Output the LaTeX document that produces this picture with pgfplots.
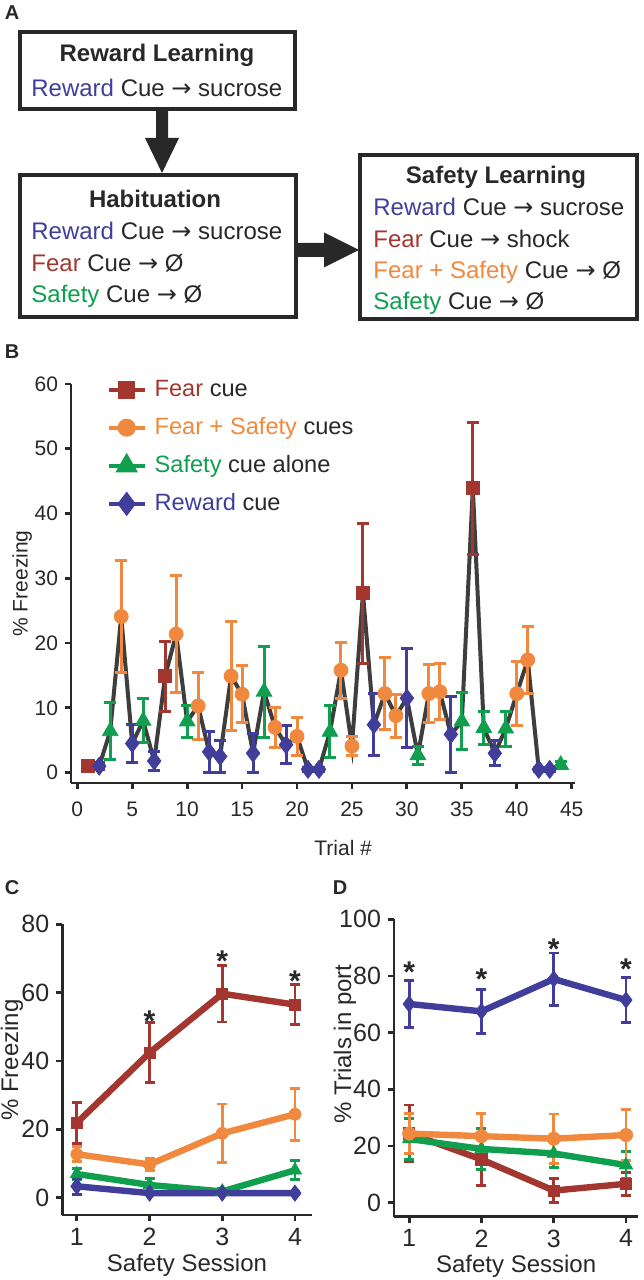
\documentclass[border=0pt]{standalone}
\usepackage{fontspec}
\setmainfont{Liberation Sans}
\newfontfamily\dv{DejaVu Sans}
\usepackage{pgfplots}
\usepackage{pgfplotstable}
\pgfplotsset{compat=1.18}

\definecolor{cred}{RGB}{163,55,47}
\definecolor{corange}{RGB}{240,137,61}
\definecolor{cgreen}{RGB}{16,158,79}
\definecolor{cblue}{RGB}{64,62,154}
\definecolor{cline}{RGB}{62,62,62}
\definecolor{ctext}{RGB}{40,40,40}

\newcommand{\fs}[1]{\fontsize{#1}{#1}\selectfont}
\newcommand{\arr}{{\dv\char"2192}}

% ---------- Panel B data ----------
\pgfplotstableread{
t v
1 1.0
2 1.0
3 6.4
4 24.1
5 4.5
6 8.0
7 1.8
8 14.9
9 21.4
10 7.9
11 10.3
12 3.2
13 2.5
14 14.9
15 12.1
16 3.0
17 12.5
18 7.0
19 4.3
20 5.6
21 0.5
22 0.5
23 6.3
24 15.8
25 4.1
26 27.7
27 7.4
28 12.2
29 8.8
30 11.5
31 2.7
32 12.2
33 12.5
34 5.9
35 7.9
36 43.9
37 6.9
38 3.0
39 6.8
40 12.2
41 17.4
42 0.5
43 0.5
44 1.2
}\Bline

\pgfplotstableread{
t v e
1 1.0 0.8
8 14.9 5.4
26 27.7 10.8
36 43.9 10.2
}\Bfear

\pgfplotstableread{
t v e
4 24.1 8.7
9 21.4 9.0
11 10.3 5.2
14 14.9 8.4
15 12.1 4.4
18 7.0 3.1
20 5.6 2.9
24 15.8 4.3
25 4.1 1.5
28 12.2 5.5
29 8.8 3.3
32 12.2 4.5
33 12.5 4.3
40 12.2 4.9
41 17.4 5.2
}\Bfs

\pgfplotstableread{
t v e
3 6.4 4.4
6 8.0 3.4
10 7.9 2.5
17 12.5 7.0
23 6.3 4.0
31 2.7 1.4
35 7.9 4.4
37 6.9 2.6
39 6.8 2.7
44 1.2 0.5
}\Bsafe

\pgfplotstableread{
t v e
2 1.0 0.5
5 4.5 3.0
7 1.8 1.5
12 3.2 3.2
13 2.5 2.5
16 3.0 3.0
19 4.3 2.9
21 0.5 0.3
22 0.5 0.3
27 7.4 4.8
30 11.5 7.6
34 5.9 5.9
38 3.0 1.9
42 0.5 0.3
43 0.5 0.3
}\Brew

% ---------- Panel C data ----------
\pgfplotstableread{
s v e
1 21.9 6.0
2 42.4 8.8
3 59.7 8.3
4 56.5 5.9
}\Cfear
\pgfplotstableread{
s v e
1 12.7 2.2
2 9.7 1.8
3 18.8 8.6
4 24.4 7.6
}\Cfs
\pgfplotstableread{
s v e
1 6.9 1.7
2 3.7 1.9
3 1.8 1.0
4 8.0 2.8
}\Csafe
\pgfplotstableread{
s v e
1 3.3 2.4
2 1.3 0.5
3 1.3 0.5
4 1.3 0.5
}\Crew

% ---------- Panel D data ----------
\pgfplotstableread{
s v e
1 70.1 8.4
2 67.5 7.8
3 78.9 9.2
4 71.5 8.0
}\Drew
\pgfplotstableread{
s v e
1 24.4 7.0
2 23.5 8.0
3 22.6 8.7
4 23.9 8.9
}\Dfs
\pgfplotstableread{
s v e
1 22.5 7.2
2 19.0 7.2
3 17.4 4.9
4 13.3 4.7
}\Dsafe
\pgfplotstableread{
s v e
1 24.5 10.0
2 15.3 9.1
3 4.3 4.3
4 6.7 4.0
}\Dfear

\pgfplotsset{
  base/.style={scale only axis, axis x line*=bottom, axis y line*=left,
    axis line style={line width=1.4pt, color=ctext},
    major tick style={line width=1.4pt, color=ctext},
    major tick length=3pt, tick align=outside,
    /pgf/number format/assume math mode=true,
    clip=false, tick label style={text=ctext}, label style={text=ctext}},
  ser/.style n args={3}{only marks, color=#1, mark=#2, mark size=#3,
    mark options={solid, fill=#1, draw=#1, line width=0.4pt},
    error bars/y dir=both, error bars/y explicit,
    error bars/error bar style={line width=1.5pt, color=#1},
    error bars/error mark options={rotate=90, mark size=3pt, line width=1.5pt, color=#1}},
  serl/.style n args={3}{color=#1, line width=3.2pt, mark=#2, mark size=#3,
    mark options={solid, fill=#1, draw=#1, line width=0.4pt},
    error bars/y dir=both, error bars/y explicit,
    error bars/error bar style={line width=1.4pt, color=#1},
    error bars/error mark options={rotate=90, mark size=2.5pt, line width=1.4pt, color=#1}},
}

\begin{document}
\begin{tikzpicture}
\path[use as bounding box] (0pt,0pt) rectangle (321.5pt,640pt);

% ---------- Panel A ----------
\node[font=\fs{10}\bfseries, text=ctext] at (6pt,633.5pt) {A};
\draw[ctext, line width=2pt] (10pt,585.5pt) rectangle (147.5pt,624pt);
\node[font=\fs{12}\bfseries, text=ctext] at (78.5pt,612.5pt) {Reward Learning};
\node[font=\fs{12}, text=ctext, anchor=west, inner sep=0pt] at (15.5pt,596pt) {\textcolor{cblue}{Reward} Cue \arr{} sucrose};

\fill[ctext] (78pt,584.5pt) -- (84pt,584.5pt) -- (84pt,571pt) -- (89.5pt,571pt) -- (81pt,553.5pt) -- (72.5pt,571pt) -- (78pt,571pt) -- cycle;

\draw[ctext, line width=2pt] (10pt,481.5pt) rectangle (148pt,552.5pt);
\node[font=\fs{12}\bfseries, text=ctext] at (77.5pt,540.5pt) {Habituation};
\node[font=\fs{12}, text=ctext, anchor=west, inner sep=0pt] at (15.5pt,524.5pt) {\textcolor{cblue}{Reward} Cue \arr{} sucrose};
\node[font=\fs{12}, text=ctext, anchor=west, inner sep=0pt] at (15.5pt,508.5pt) {\textcolor{cred}{Fear} Cue \arr{} Ø};
\node[font=\fs{12}, text=ctext, anchor=west, inner sep=0pt] at (15.5pt,492pt) {\textcolor{cgreen}{Safety} Cue \arr{} Ø};

\fill[ctext] (149pt,518.5pt) -- (162pt,518.5pt) -- (162pt,523.75pt) -- (179.5pt,515pt) -- (162pt,506.25pt) -- (162pt,511.5pt) -- (149pt,511.5pt) -- cycle;

\draw[ctext, line width=2pt] (180pt,480.5pt) rectangle (318.5pt,562.5pt);
\node[font=\fs{12}\bfseries, text=ctext] at (248pt,551.5pt) {Safety Learning};
\node[font=\fs{12}, text=ctext, anchor=west, inner sep=0pt] at (186.5pt,536.5pt) {\textcolor{cblue}{Reward} Cue \arr{} sucrose};
\node[font=\fs{12}, text=ctext, anchor=west, inner sep=0pt] at (186.5pt,520.5pt) {\textcolor{cred}{Fear} Cue \arr{} shock};
\node[font=\fs{12}, text=ctext, anchor=west, inner sep=0pt] at (186.5pt,504pt) {\textcolor{corange}{Fear + Safety} Cue \arr{} Ø};
\node[font=\fs{12}, text=ctext, anchor=west, inner sep=0pt] at (186.5pt,488.5pt) {\textcolor{cgreen}{Safety} Cue \arr{} Ø};

% ---------- Panel B ----------
\node[font=\fs{10}\bfseries, text=ctext] at (6pt,464pt) {B};
\begin{axis}[base, at={(35.5pt,248.5pt)}, anchor=south west,
  width=252pt, height=199.5pt,
  xmin=-0.57, xmax=45.3, ymin=-1.6, ymax=60,
  xtick={0,5,...,45}, ytick={0,10,...,60},
  tick label style={font=\fs{10.5}}, label style={font=\fs{10.5}},
  xticklabel style={yshift=-3pt},
  xlabel={Trial \#}, ylabel={\% Freezing},
  xlabel style={at={(axis description cs:0.54,-0.163)}, anchor=center},
  ylabel style={at={(axis description cs:-0.097,0.5)}, anchor=center},
  legend style={at={(rel axis cs:0.07,1.02)}, anchor=north west, draw=none, fill=none,
    inner sep=0pt, font=\fs{11.8}, text=ctext, row sep=5pt},
  legend cell align=left,
  legend image code/.code={\draw[mark repeat=2, mark phase=2, #1] plot coordinates {(0pt,0pt) (9pt,0pt) (18pt,0pt)};},
]
\addlegendimage{cred, line width=2pt, mark=square*, mark size=3.3pt, mark options={solid, fill=cred}}
\addlegendentry{\hspace{2pt}\textcolor{cred}{Fear} cue}
\addlegendimage{corange, line width=2pt, mark=*, mark size=3.5pt, mark options={solid, fill=corange}}
\addlegendentry{\hspace{2pt}\textcolor{corange}{Fear + Safety} cues}
\addlegendimage{cgreen, line width=2pt, mark=triangle*, mark size=4.5pt, mark options={solid, fill=cgreen}}
\addlegendentry{\hspace{2pt}\textcolor{cgreen}{Safety} cue alone}
\addlegendimage{cblue, line width=2pt, mark=diamond*, mark size=4.5pt, mark options={solid, fill=cblue}}
\addlegendentry{\hspace{2pt}\textcolor{cblue}{Reward} cue}

\addplot[forget plot, cline, line width=2pt, mark=none] table[x=t,y=v]{\Bline};
\addplot[forget plot, ser={cred}{square*}{3.3pt}] table[x=t,y=v,y error=e]{\Bfear};
\addplot[forget plot, ser={corange}{*}{3.5pt}] table[x=t,y=v,y error=e]{\Bfs};
\addplot[forget plot, ser={cgreen}{triangle*}{4.5pt}] table[x=t,y=v,y error=e]{\Bsafe};
\addplot[forget plot, ser={cblue}{diamond*}{4.5pt}] table[x=t,y=v,y error=e]{\Brew};
\end{axis}

% ---------- Panel C ----------
\node[font=\fs{10}\bfseries, text=ctext] at (6pt,196pt) {C};
\node[font=\fs{12}, text=ctext, rotate=90, inner sep=0pt] at (6pt,110pt) {\% Freezing};
\begin{axis}[base, at={(31.15pt,32.5pt)}, anchor=south west,
  width=124.7pt, height=145.3pt,
  xmin=0.8, xmax=4.23, ymin=-5.1, ymax=80,
  xtick={1,2,3,4}, ytick={0,20,...,80},
  tick label style={font=\fs{12.5}}, label style={font=\fs{12}},
  xlabel={Safety Session},
  xlabel style={at={(axis description cs:0.5,-0.172)}, anchor=center}]
\addplot[serl={cgreen}{triangle*}{3.8pt}] table[x=s,y=v,y error=e]{\Csafe};
\addplot[serl={cblue}{diamond*}{4pt}] table[x=s,y=v,y error=e]{\Crew};
\addplot[serl={corange}{*}{3pt}] table[x=s,y=v,y error=e]{\Cfs};
\addplot[serl={cred}{square*}{2.8pt}] table[x=s,y=v,y error=e]{\Cfear};
\node[font=\fs{15}\bfseries, text=ctext] at (axis cs:2,51.8) {*};
\node[font=\fs{15}\bfseries, text=ctext] at (axis cs:3,69.2) {*};
\node[font=\fs{15}\bfseries, text=ctext] at (axis cs:4,63.3) {*};
\end{axis}

% ---------- Panel D ----------
\node[font=\fs{10}\bfseries, text=ctext] at (170pt,196pt) {D};
\node[font=\fs{12}, text=ctext, rotate=90, inner sep=0pt] at (172.5pt,118pt) {\% Trials in port};
\begin{axis}[base, at={(197pt,31.65pt)}, anchor=south west,
  width=122.15pt, height=148.75pt,
  xmin=0.79, xmax=4.17, ymin=-4.9, ymax=100,
  xtick={1,2,3,4}, ytick={0,20,...,100},
  tick label style={font=\fs{12.5}}, label style={font=\fs{12}},
  xlabel={Safety Session},
  xlabel style={at={(axis description cs:0.5,-0.168)}, anchor=center}]
\addplot[serl={cred}{square*}{2.8pt}] table[x=s,y=v,y error=e]{\Dfear};
\addplot[serl={cgreen}{triangle*}{3.8pt}] table[x=s,y=v,y error=e]{\Dsafe};
\addplot[serl={corange}{*}{3.3pt}] table[x=s,y=v,y error=e]{\Dfs};
\addplot[serl={cblue}{diamond*}{4pt}] table[x=s,y=v,y error=e]{\Drew};
\node[font=\fs{15}\bfseries, text=ctext] at (axis cs:1,81.2) {*};
\node[font=\fs{15}\bfseries, text=ctext] at (axis cs:2,78.8) {*};
\node[font=\fs{15}\bfseries, text=ctext] at (axis cs:3,89.4) {*};
\node[font=\fs{15}\bfseries, text=ctext] at (axis cs:4,82.4) {*};
\end{axis}
\end{tikzpicture}
\end{document}
